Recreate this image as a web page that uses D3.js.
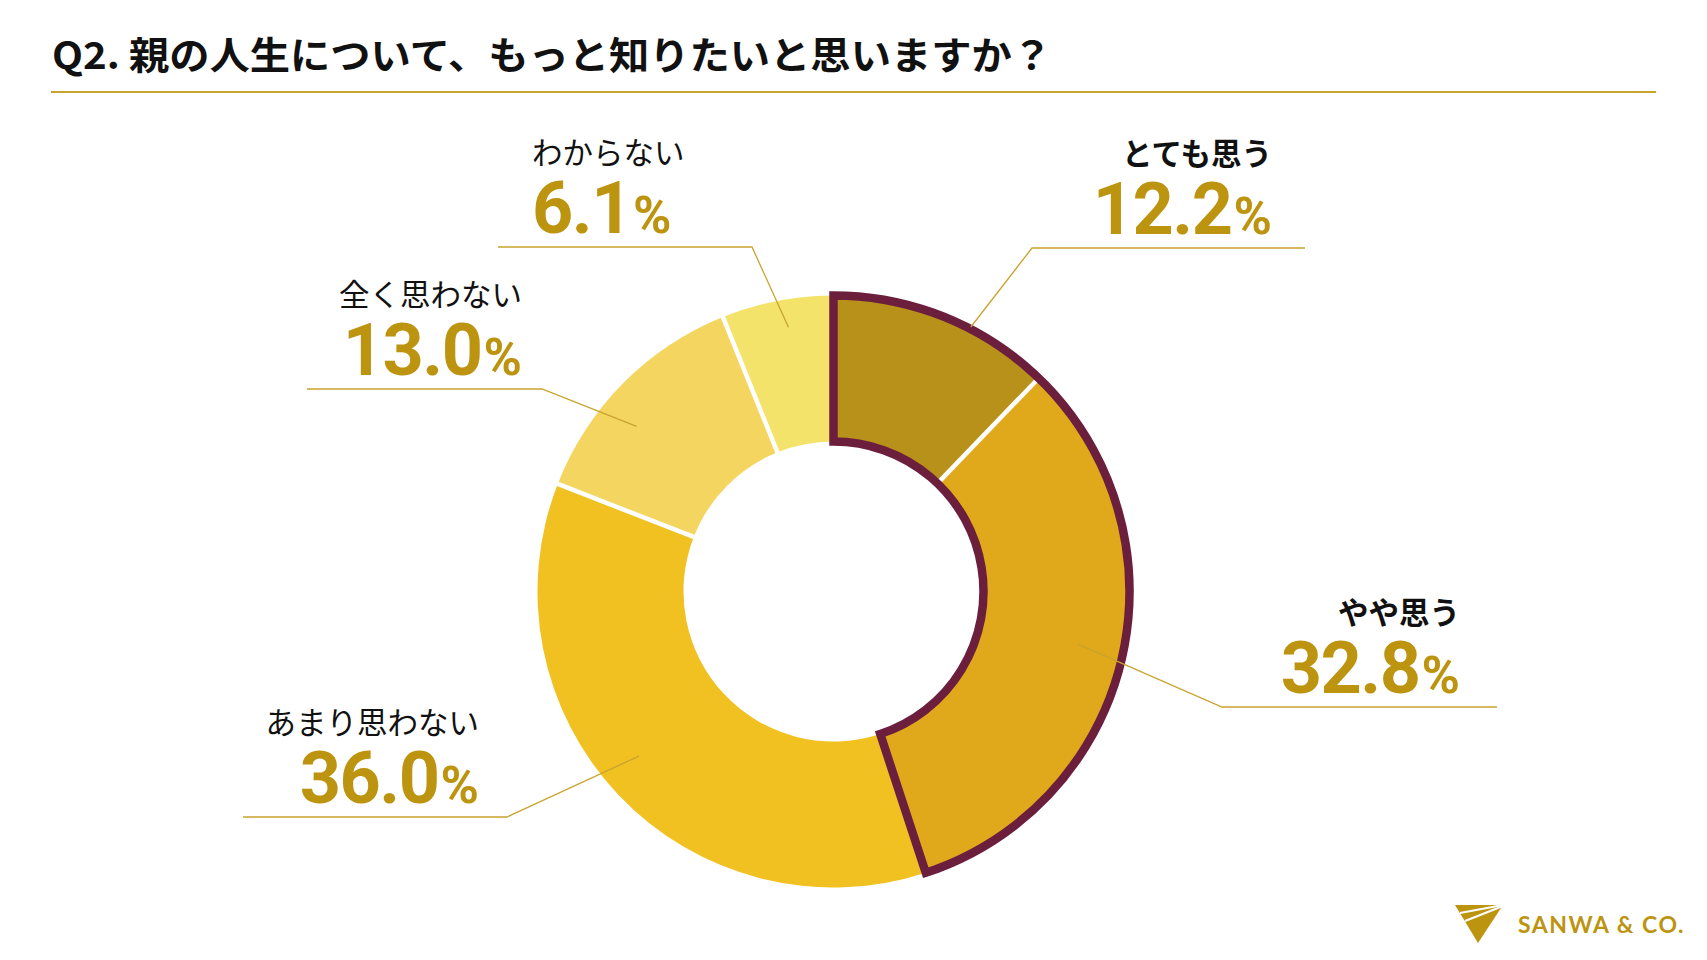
<!DOCTYPE html>
<html>
<head>
<meta charset="utf-8">
<script src="https://cdn.jsdelivr.net/npm/d3@7"></script>
<style>
  html, body { margin: 0; padding: 0; background: #fff; }
  #chart { width: 1707px; height: 960px; }
</style>
</head>
<body>
<div id="chart"></div>
<script>
// values (percent)
var categories = ['とても思う', 'やや思う', 'あまり思わない', '全く思わない', 'わからない'];
var values = [12.2, 32.8, 36.0, 13.0, 6.1];
var highlighted = ['とても思う', 'やや思う'];
var boldNames = ['とても思う', 'やや思う'];

var title = 'Q2. 親の人生について、もっと知りたいと思いますか？';
var brand = 'SANWA & CO.';

var sliceColors = ['#b8911a', '#e0a91b', '#f0c121', '#f4d55f', '#f3e36b'];
var gold = '#bd940f';
var lineGold = '#c9a32e';
var outlineColor = '#6c1f3d';

// leader layout: angle offset from slice middle (deg), radius of the anchor,
// elbow x, y of the horizontal rule, far end x, text x and alignment
var leaderAngleOffset = [5.5, -0.7, 3.2, -4.7, 1.3];
var leaderRadius = [298, 250, 255, 257, 268];
var elbowX = [1032, 1222, 507, 542, 752];
var ruleY = [248, 707, 817, 389, 247];
var ruleEndX = [1305, 1497, 243, 307, 498];
var textX = [1272, 1460, 479, 522, 532];
var textAnchor = ['end', 'end', 'end', 'end', 'start'];

var W = 1707, H = 960,
    cx = 833.5, cy = 591.5,
    outerR = 296, innerR = 150;

var svg = d3.select('#chart').append('svg')
    .attr('width', W)
    .attr('height', H)
    .attr('viewBox', '0 0 ' + W + ' ' + H);

// title and rule
svg.append('text')
    .attr('x', 52)
    .attr('y', 69)
    .attr('font-family', '"Noto Sans CJK JP", "Noto Sans", sans-serif')
    .attr('font-weight', 700)
    .attr('font-size', 38)
    .attr('fill', '#111')
    .attr('textLength', 1000)
    .attr('lengthAdjust', 'spacingAndGlyphs')
    .text(title);

svg.append('line')
    .attr('x1', 51).attr('x2', 1656)
    .attr('y1', 92).attr('y2', 92)
    .attr('stroke', lineGold)
    .attr('stroke-width', 2);

var data = categories.map(function(c, i) {
  return { name: c, value: values[i], index: i };
});

var pie = d3.pie()
    .sort(null)
    .value(function(d) { return d.value; });

var arcs = pie(data);

var arc = d3.arc()
    .innerRadius(innerR)
    .outerRadius(outerR);

var g = svg.append('g')
    .attr('transform', 'translate(' + cx + ',' + cy + ')');

g.selectAll('path.slice').data(arcs)
  .enter().append('path')
    .attr('class', 'slice')
    .attr('d', arc)
    .attr('fill', function(d) { return sliceColors[d.data.index]; });

// white separators, except where the outline sits
var total = d3.sum(values);
var angle = d3.scaleLinear().domain([0, total]).range([0, 2 * Math.PI]);
var groupSum = d3.sum(data.filter(function(d) {
  return highlighted.indexOf(d.name) >= 0;
}), function(d) { return d.value; });

var bounds = arcs.map(function(a) { return a.startAngle; })
    .filter(function(t) {
      return Math.abs(t - angle(0)) > 1e-6 && Math.abs(t - angle(groupSum)) > 1e-6;
    });

g.selectAll('line.sep').data(bounds)
  .enter().append('line')
    .attr('class', 'sep')
    .attr('x1', function(t) { return (innerR - 2) * Math.sin(t); })
    .attr('y1', function(t) { return -(innerR - 2) * Math.cos(t); })
    .attr('x2', function(t) { return (outerR + 2) * Math.sin(t); })
    .attr('y2', function(t) { return -(outerR + 2) * Math.cos(t); })
    .attr('stroke', '#fff')
    .attr('stroke-width', 4.5);

// outline round the highlighted group
g.append('path')
    .attr('d', d3.arc()
        .innerRadius(innerR)
        .outerRadius(outerR)
        .startAngle(angle(0))
        .endAngle(angle(groupSum))())
    .attr('fill', 'none')
    .attr('stroke', outlineColor)
    .attr('stroke-width', 8.5)
    .attr('stroke-linejoin', 'miter');

// leaders and labels
var labels = svg.append('g');
arcs.forEach(function(a, i) {
  var mid = (a.startAngle + a.endAngle) / 2 + leaderAngleOffset[i] * Math.PI / 180;
  var ax = cx + leaderRadius[i] * Math.sin(mid),
      ay = cy - leaderRadius[i] * Math.cos(mid);

  labels.append('polyline')
      .attr('points', [[ax, ay], [elbowX[i], ruleY[i]], [ruleEndX[i], ruleY[i]]]
          .map(function(p) { return p.join(','); }).join(' '))
      .attr('fill', 'none')
      .attr('stroke', lineGold)
      .attr('stroke-width', 1.3);

  var bold = boldNames.indexOf(a.data.name) >= 0;
  labels.append('text')
      .attr('x', textX[i])
      .attr('y', ruleY[i] - 83)
      .attr('text-anchor', textAnchor[i])
      .attr('font-family', '"Noto Sans CJK JP", sans-serif')
      .attr('font-weight', bold ? 700 : 400)
      .attr('font-size', 30.5)
      .attr('fill', '#111')
      .text(a.data.name);

  var num = labels.append('text')
      .attr('x', textX[i])
      .attr('y', ruleY[i] - 14)
      .attr('text-anchor', textAnchor[i])
      .attr('font-family', 'Roboto, "Liberation Sans", sans-serif')
      .attr('font-weight', 700)
      .attr('fill', gold);
  num.append('tspan')
      .attr('font-size', 72)
      .attr('letter-spacing', -1.5)
      .text(d3.format('.1f')(a.data.value));
  num.append('tspan')
      .attr('font-size', 52)
      .attr('dx', 2)
      .text('%');
});

// brand mark
var logo = svg.append('g').attr('transform', 'translate(1455,905)');
logo.append('path')
    .attr('d', 'M0,0 L48,0 L23,38 Z')
    .attr('fill', gold);
logo.append('line')
    .attr('x1', 5).attr('y1', 8).attr('x2', 48).attr('y2', 0)
    .attr('stroke', '#fff').attr('stroke-width', 2.2);
logo.append('line')
    .attr('x1', 10).attr('y1', 16).attr('x2', 48).attr('y2', 1)
    .attr('stroke', '#fff').attr('stroke-width', 2.2);

svg.append('text')
    .attr('x', 1518)
    .attr('y', 933)
    .attr('font-family', 'Lato, "Open Sans", sans-serif')
    .attr('font-weight', 700)
    .attr('font-size', 23)
    .attr('letter-spacing', 1.5)
    .attr('fill', gold)
    .text(brand);
</script>
</body>
</html>
